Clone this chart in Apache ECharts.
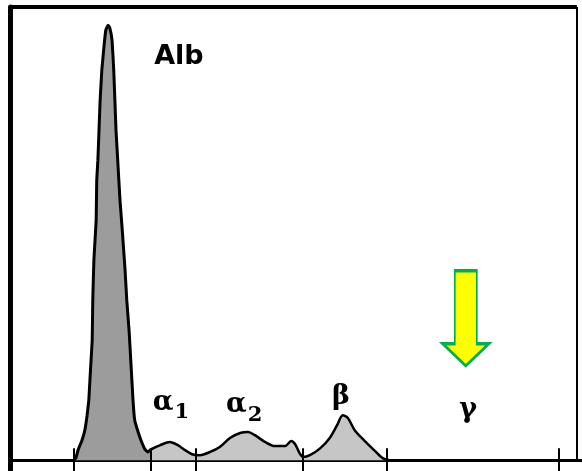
<!DOCTYPE html>
<html>
<head>
<meta charset="utf-8">
<script src="https://cdn.jsdelivr.net/npm/echarts@6/dist/echarts.min.js"></script>
<style>
html,body{margin:0;padding:0;background:#fff;}
#chart{width:582px;height:471px;}
</style>
</head>
<body>
<div id="chart"></div>
<script>
// Densitometric scan of serum protein electrophoresis (mobility 0-100, relative density)
const mobility = [11.3, 11.6, 12.0, 12.7, 13.2, 13.6, 13.9, 14.1, 14.3, 14.5, 14.6, 14.8, 15.2, 15.3, 15.5, 15.7, 15.9, 16.2, 16.6, 16.9, 17.3, 17.6, 18.0, 18.3, 18.5, 18.7, 19.0, 19.4, 19.8, 20.3, 20.6, 21.0, 21.3, 21.7, 22.0, 22.6, 23.1, 23.8, 24.3, 24.9,
  26.5, 28.2, 29.6, 30.9, 32.1, 33.5, 35.3, 37.0, 38.8, 40.6, 42.0, 43.2, 45.0, 46.7, 48.5, 49.6, 50.3, 51.1, 51.7, 52.9, 54.7, 56.4, 57.7, 58.7, 59.6, 60.8, 62.6, 64.4, 65.8, 67.0];
const density = [0, 0.4, 2.2, 4.4, 6.6, 9.9, 13.2, 17.7, 22.1, 26.5, 35.3, 44.2, 53.0, 61.8, 66.2, 72.8, 79.5, 86.1, 91.6, 94.9, 96.0, 95.4, 92.7, 86.1, 79.5, 72.8, 66.2, 57.4, 50.8, 41.9, 35.3, 28.7, 22.1, 13.2, 8.8, 6.2, 4.4, 2.4, 1.8, 2.4,
  3.3, 4.0, 3.3, 2.2, 1.3, 1.1, 1.8, 2.9, 4.9, 6.0, 6.2, 5.5, 4.0, 3.1, 3.1, 4.2, 3.5, 1.5, 0.7, 1.1, 2.6, 4.9, 7.7, 9.9, 9.3, 6.6, 4.2, 2.0, 0.4, 0];
const albuminEnd = 24.9;
const tickPositions = [11.3, 24.9, 32.8, 51.7, 66.5, 96.8];
const frameRight = 100;
const bandLabels = ['Alb', 'α1', 'α2', 'β', 'γ'];
const bandLabelX = [29.8, 28.4, 41.3, 58.4, 80.8];
const bandLabelY = [89.0, 12.6, 12.1, 13.9, 11.0];
const arrowAt = [80.4, 31.3];

const pts = mobility.map((m, i) => [m, density[i]]);
const albPts = pts.filter(p => p[0] <= albuminEnd);
const gloPts = pts.filter(p => p[0] >= albuminEnd);

const labelData = bandLabels.map((t, i) => {
  let fmt;
  if (t === 'Alb') fmt = '{alb|Alb}';
  else if (t.length === 2) fmt = '{g|' + t[0] + '}{s|' + t[1] + '}';
  else fmt = '{g|' + t + '}';
  return { value: [bandLabelX[i], bandLabelY[i]], label: { formatter: fmt } };
});

const frameLines = tickPositions.map(x => [
  { coord: [x, 2.6] }, { coord: [x, -2.4] }
]);
frameLines.push([{ coord: [frameRight, 100] }, { coord: [frameRight, 0] }]);

const chart = echarts.init(document.getElementById('chart'), null, { renderer: 'canvas' });
chart.setOption({
  animation: false,
  backgroundColor: '#ffffff',
  grid: { left: 10, right: 0, top: 7, bottom: 0 },
  xAxis: {
    type: 'value', min: 0, max: 100.9,
    axisLine: { show: true, onZero: true, lineStyle: { color: '#000', width: 3 } },
    axisTick: { show: false }, axisLabel: { show: false }, splitLine: { show: false }
  },
  yAxis: {
    type: 'value', min: -2.4, max: 100,
    axisLine: { show: true, onZero: false, lineStyle: { color: '#000', width: 5 } },
    axisTick: { show: false }, axisLabel: { show: false }, splitLine: { show: false }
  },
  series: [
    {
      name: 'Albumin', type: 'line', data: albPts, smooth: 0.08, symbol: 'none',
      lineStyle: { color: '#000', width: 3 },
      areaStyle: { color: '#9c9c9c', opacity: 1 },
      z: 3
    },
    {
      name: 'Globulins', type: 'line', data: gloPts, smooth: 0.3, symbol: 'none',
      lineStyle: { color: '#000', width: 2.5 },
      areaStyle: { color: '#c6c6c6', opacity: 1 },
      z: 3,
      markLine: {
        silent: true, symbol: ['none', 'none'], label: { show: false },
        lineStyle: { color: '#000', width: 2, type: 'solid' },
        data: frameLines
      }
    },
    {
      name: 'Frame top', type: 'line', data: [[0, 100], [frameRight, 100]], symbol: 'none', silent: true,
      lineStyle: { color: '#000', width: 4 }, z: 4
    },
    {
      name: 'labels', type: 'scatter', data: labelData, symbolSize: 0, silent: true, z: 5,
      itemStyle: { opacity: 1 },
      label: {
        show: true, position: 'inside', color: '#000',
        rich: {
          alb: { fontFamily: 'DejaVu Sans', fontWeight: 'bold', fontSize: 27, color: '#000' },
          g: { fontFamily: 'DejaVu Serif', fontWeight: 'bold', fontSize: 27, color: '#000' },
          s: { fontFamily: 'DejaVu Serif', fontWeight: 'bold', fontSize: 21, color: '#000', padding: [20, 0, 0, 1] }
        }
      }
    },
    {
      name: 'arrow', type: 'scatter', data: [arrowAt], silent: true, z: 6,
      symbol: 'path://M12,0 L34,0 L34,73 L46,73 L23,95 L0,73 L12,73 Z',
      symbolSize: [46, 95],
      itemStyle: { color: '#ffff00', borderColor: '#00b050', borderWidth: 2.5, opacity: 1 }
    }
  ]
});
</script>
</body>
</html>
